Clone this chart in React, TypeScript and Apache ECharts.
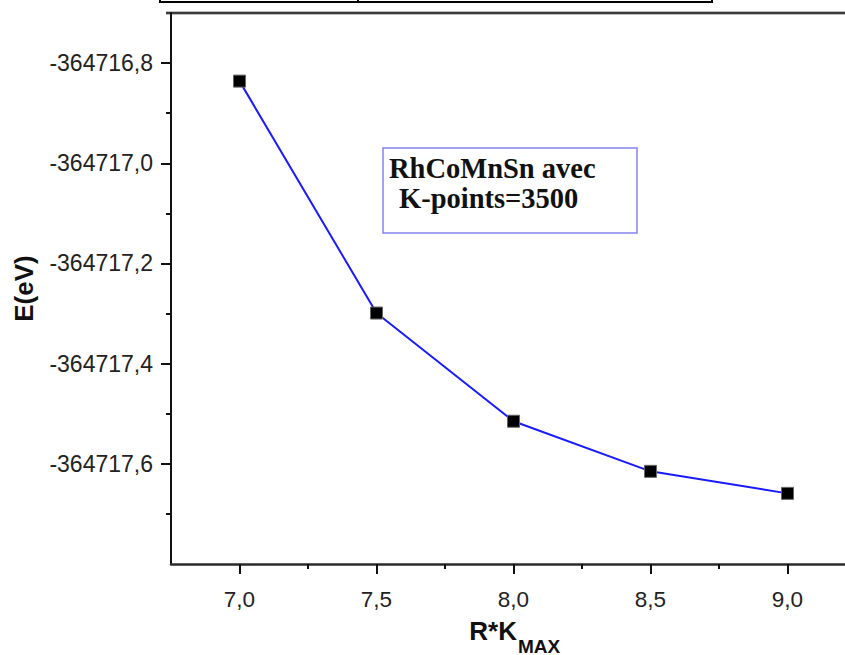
import React, { useEffect, useRef } from "react";
import * as echarts from "echarts";

// ---- data ----
const xValues = [7.0, 7.5, 8.0, 8.5, 9.0];
const energies = [-364716.836, -364717.299, -364717.515, -364717.615, -364717.659];

const xMajorTicks = [7.0, 7.5, 8.0, 8.5, 9.0];
const xMinorTicks = [7.25, 7.75, 8.25, 8.75];
const yMajorTicks = [-364717.6, -364717.4, -364717.2, -364717.0, -364716.8];
const yMinorTicks = [-364717.7, -364717.5, -364717.3, -364717.1, -364716.9];

const xMin = 6.75;
const xMax = 9.25;
const yMin = -364717.8;
const yMax = -364716.7;

const yTitle = "E(eV)";
const xTitleMain = "R*K";
const xTitleSub = "MAX";
const legendLines = ["RhCoMnSn avec", "K-points=3500"];

const fmt = (v: number) => v.toFixed(1).replace(".", ",");

export default function App() {
  const ref = useRef<HTMLDivElement>(null);

  useEffect(() => {
    if (!ref.current) return;
    const chart = echarts.init(ref.current, null, { renderer: "svg" });
    const sans = "Liberation Sans, Arial, sans-serif";
    const serif = "Liberation Serif, Times New Roman, serif";

    const option: any = {
      animation: false,
      backgroundColor: "#ffffff",
      grid: {
        left: 171,
        top: 13,
        right: -11,
        bottom: 91,
        containLabel: false,
        outerBoundsMode: "none",
      },
      xAxis: [
        {
          type: "value",
          min: xMin,
          max: xMax,
          position: "bottom",
          axisLine: { show: true, onZero: false, lineStyle: { color: "#2a2a2a", width: 2.5 } },
          axisTick: { show: true, length: 10, lineStyle: { color: "#111", width: 2 }, customValues: xMajorTicks },
          axisLabel: { fontSize: 22.5, fontFamily: sans, color: "#222", margin: 24, customValues: xMajorTicks, formatter: fmt },
          splitLine: { show: false },
        },
        {
          type: "value",
          min: xMin,
          max: xMax,
          position: "bottom",
          axisLine: { show: false, onZero: false },
          axisTick: { show: true, length: 5, lineStyle: { color: "#111", width: 2 }, customValues: xMinorTicks },
          axisLabel: { show: false },
          splitLine: { show: false },
        },
      ],
      yAxis: [
        {
          type: "value",
          min: yMin,
          max: yMax,
          position: "left",
          name: yTitle,
          nameLocation: "middle",
          nameGap: 134,
          nameTextStyle: { fontSize: 26, fontWeight: "bold", fontFamily: sans, color: "#111" },
          axisLine: { show: true, onZero: false, lineStyle: { color: "#111", width: 2 } },
          axisTick: { show: true, length: 10, lineStyle: { color: "#111", width: 2 }, customValues: yMajorTicks },
          axisLabel: { fontSize: 23, fontFamily: sans, color: "#222", margin: 18, customValues: yMajorTicks, formatter: fmt },
          splitLine: { show: false },
        },
        {
          type: "value",
          min: yMin,
          max: yMax,
          position: "left",
          offset: 0,
          axisLine: { show: false, onZero: false },
          axisTick: { show: true, length: 5, lineStyle: { color: "#111", width: 2 }, customValues: yMinorTicks },
          axisLabel: { show: false },
          splitLine: { show: false },
        },
      ],
      series: [
        {
          type: "line",
          xAxisIndex: 0,
          yAxisIndex: 0,
          data: xValues.map((x, i) => [x, energies[i]]),
          symbol: "rect",
          symbolSize: 12,
          lineStyle: { color: "#1a1aff", width: 2 },
          itemStyle: { color: "#000", borderColor: "#666", borderWidth: 1 },
          z: 3,
        },
      ],
      graphic: [
        // cut-off table at the very top
        { type: "polyline", shape: { points: [[160, 0], [160, 2], [712, 2], [712, 0]] }, style: { stroke: "#000", lineWidth: 2, fill: "none" }, silent: true },
        { type: "line", shape: { x1: 358, y1: 0, x2: 358, y2: 2 }, style: { stroke: "#000", lineWidth: 2 }, silent: true },
        // top frame line
        { type: "line", shape: { x1: 166, y1: 13, x2: 845, y2: 13 }, style: { stroke: "#bdbdbd", lineWidth: 4 }, silent: true },
        { type: "line", shape: { x1: 166, y1: 13, x2: 845, y2: 13 }, style: { stroke: "#3a3a3a", lineWidth: 2 }, silent: true },
        // legend box
        { type: "rect", shape: { x: 383, y: 148, width: 254, height: 85 }, style: { fill: "#fff", stroke: "#8484ee", lineWidth: 1.5 }, z: 5 },
        { type: "text", x: 389, y: 168, style: { text: legendLines[0], font: `bold 28.5px ${serif}`, fill: "#111", textAlign: "left", textVerticalAlign: "middle" }, z: 6 },
        { type: "text", x: 399, y: 198, style: { text: legendLines[1], font: `bold 28.5px ${serif}`, fill: "#111", textAlign: "left", textVerticalAlign: "middle" }, z: 6 },
        // x axis title with subscript
        { type: "text", x: 517, y: 631, style: { text: xTitleMain, font: `bold 26px ${sans}`, fill: "#111", textAlign: "right", textVerticalAlign: "middle" } },
        { type: "text", x: 518, y: 646, style: { text: xTitleSub, font: `bold 19px ${sans}`, fill: "#111", textAlign: "left", textVerticalAlign: "middle" } },
      ],
    };

    chart.setOption(option);
    return () => chart.dispose();
  }, []);

  return (
    <div
      ref={ref}
      style={{ position: "absolute", left: 0, top: 0, width: 845, height: 655, background: "#fff" }}
    />
  );
}
